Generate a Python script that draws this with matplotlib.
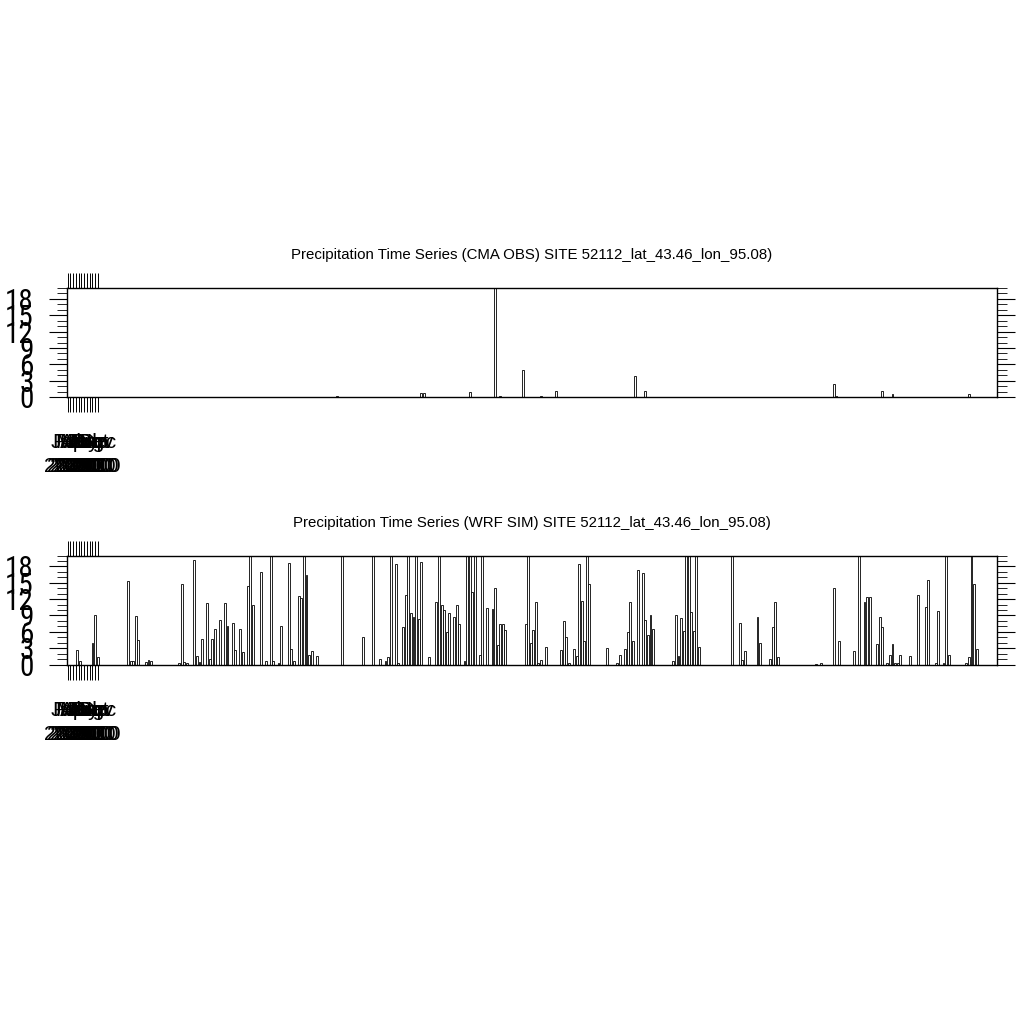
import matplotlib
matplotlib.use("Agg")
import matplotlib.pyplot as plt
from matplotlib.ticker import MultipleLocator, FixedLocator
import logging
logging.getLogger('matplotlib.font_manager').setLevel(logging.ERROR)

plt.rcParams['font.family'] = ['Liberation Sans', 'DejaVu Sans']

site = "SITE 52112_lat_43.46_lon_95.08)"
titles = ["Precipitation Time Series (CMA OBS) " + site,
          "Precipitation Time Series (WRF SIM) " + site]

# observed daily precipitation (day of year -> mm), zero days omitted
obs_days = [106, 139, 140, 158, 168, 170, 179, 186, 192, 223, 227, 301, 302, 320, 324, 354]
obs_vals = [0.25, 0.75, 0.75, 0.9, 24, 0.1, 4.9, 0.1, 1.1, 3.9, 1.1, 2.45, 0.1, 1.1, 0.55, 0.5]

# simulated daily precipitation
sim_days = [4, 5, 10, 11, 12, 24, 25, 26, 27, 28, 31, 32, 33, 44, 45, 46, 47, 50, 51, 52,
            53, 55, 56, 57, 58, 60, 62, 63, 65, 66, 68, 69, 71, 72, 73, 76, 78, 80, 81, 83,
            84, 87, 88, 89, 91, 92, 93, 94, 95, 96, 98, 108, 116, 120, 123, 125, 126, 127, 129, 130,
            132, 133, 134, 135, 136, 137, 138, 139, 142, 145, 146, 147, 148, 149, 150, 152, 153, 154, 156, 157,
            158, 159, 160, 162, 163, 165, 167, 168, 169, 170, 171, 172, 180, 181, 182, 183, 184, 185, 186, 188,
            194, 195, 196, 197, 199, 200, 201, 202, 203, 204, 205, 212, 216, 217, 219, 220, 221, 222, 224, 226,
            227, 228, 229, 230, 238, 239, 240, 241, 242, 243, 244, 245, 246, 247, 248, 261, 264, 265, 266, 271,
            272, 276, 277, 278, 279, 294, 296, 301, 303, 309, 311, 313, 314, 315, 318, 319, 320, 322, 323, 324,
            325, 326, 327, 331, 334, 337, 338, 341, 342, 344, 345, 346, 353, 354, 355, 356, 357]
sim_vals = [2.6, 0.7, 4.0, 9.0, 1.35, 15.4, 0.7, 0.6, 8.9, 4.5, 0.4, 0.85, 0.7, 0.35, 14.7, 0.5, 0.2, 19.2, 1.5, 0.4,
            4.6, 11.2, 1.1, 4.6, 6.5, 8.1, 11.2, 7.1, 7.7, 2.6, 6.6, 2.3, 14.4, 24, 10.9, 16.9, 0.7, 24, 0.6, 0.2,
            7.1, 18.6, 2.8, 0.6, 12.5, 12.2, 24, 16.4, 1.7, 2.4, 1.6, 24, 5.0, 24, 1.1, 0.7, 1.3, 24, 18.4, 0.25,
            6.8, 12.7, 24, 9.4, 8.8, 24, 8.3, 18.8, 1.3, 11.5, 24, 10.9, 10.0, 5.9, 9.4, 8.7, 11.0, 7.5, 0.7, 24,
            24, 13.3, 24, 1.7, 24, 10.3, 10.1, 14.0, 3.5, 7.4, 7.4, 6.4, 7.4, 24, 4.0, 6.3, 11.5, 0.2, 0.9, 3.3,
            2.6, 7.9, 5.0, 0.2, 2.8, 1.5, 18.4, 11.6, 4.3, 24, 14.7, 3.0, 0.25, 1.8, 2.9, 5.9, 11.5, 4.4, 17.4, 16.7,
            8.1, 5.5, 9.0, 6.6, 0.7, 9.1, 1.5, 8.5, 6.1, 24, 24, 9.6, 6.1, 24, 3.2, 24, 7.7, 0.9, 2.5, 8.7,
            4.0, 1.1, 6.8, 11.5, 1.3, 0.1, 0.25, 14.0, 4.4, 2.4, 24, 11.4, 12.3, 12.3, 3.7, 8.8, 6.8, 0.25, 1.7, 3.7,
            0.25, 0.25, 1.8, 1.5, 12.7, 10.6, 15.5, 0.25, 9.9, 0.25, 24, 1.7, 0.25, 1.3, 24, 14.7, 2.9]

month_labels = ["Jan", "Feb", "Mar", "Apr", "May", "Jun", "Jul", "Aug", "Sep", "Oct", "Nov", "Dec"]
year_label = "2010"
y_ticks = [0, 3, 6, 9, 12, 15, 18]

fig = plt.figure(figsize=(10.24, 10.24), dpi=100)

axes_rects = [[67/1024, 627/1024, 930/1024, 109/1024],
              [67/1024, 359.5/1024, 930/1024, 109/1024]]
title_y = [0.7466, 0.4856]
data = [(obs_days, obs_vals), (sim_days, sim_vals)]
narrow = ['Liberation Sans Narrow', 'Roboto Condensed', 'Archivo Narrow', 'Liberation Sans', 'DejaVu Sans']

for rect, ty, title, (days, vals) in zip(axes_rects, title_y, titles, data):
    ax = fig.add_axes(rect)
    ax.bar(days, vals, width=0.75, facecolor='white', edgecolor='black',
           linewidth=0.6, align='center')
    ax.set_xlim(0, 365)
    ax.set_ylim(0, 20)
    # tick positions (month ticks squeezed at the left, as in the reference)
    xt = [0.3 + 1.07 * i for i in range(12)]
    ax.xaxis.set_major_locator(FixedLocator(xt))
    ax.set_xticklabels([m + "\n" + year_label for m in month_labels])
    ax.set_yticks(y_ticks)
    ax.set_yticklabels([str(v) for v in y_ticks], family=narrow)
    ax.yaxis.set_minor_locator(MultipleLocator(1))
    ax.tick_params(axis='x', which='major', direction='out', length=11, width=0.7,
                   top=True, bottom=True, labelsize=15, pad=15)
    ax.tick_params(axis='y', which='major', direction='out', length=13, width=0.8,
                   left=True, right=True, labelsize=21, pad=11)
    ax.tick_params(axis='y', which='minor', direction='out', length=7, width=0.6,
                   left=True, right=True)
    for lab in ax.get_xticklabels():
        lab.set_linespacing(1.35)
    for sp in ax.spines.values():
        sp.set_linewidth(1.0)
    fig.text(0.5195, ty, title, ha='center', va='baseline', fontsize=10.8)

fig.savefig("out.png", dpi=100, facecolor='white')
